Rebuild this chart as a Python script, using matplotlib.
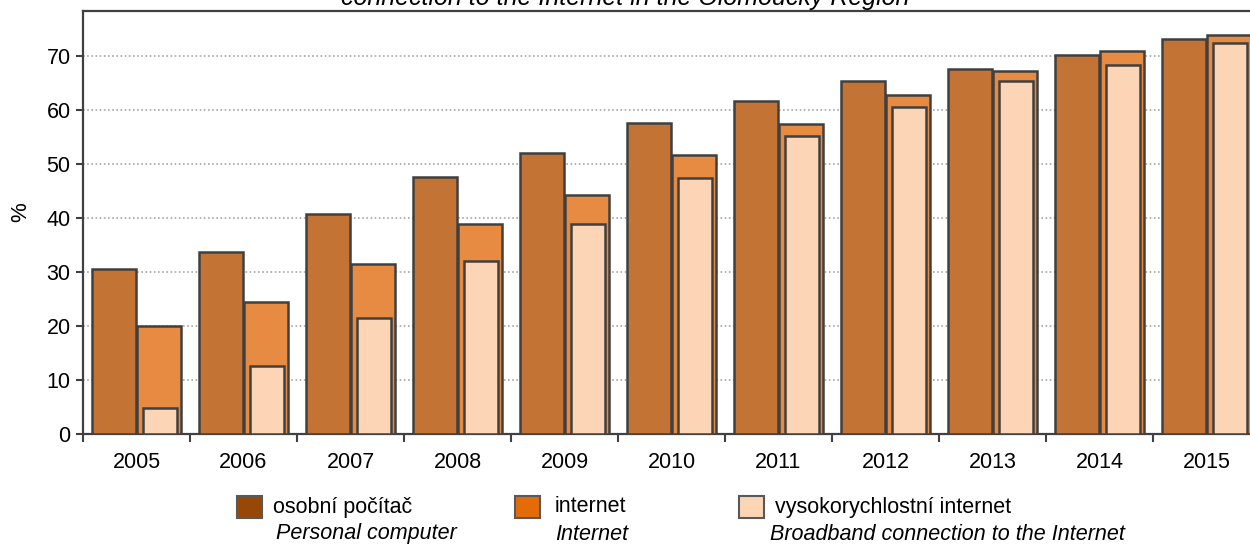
import numpy as np
import matplotlib
matplotlib.use('Agg')
import matplotlib.pyplot as plt
from matplotlib.patches import Rectangle

years = ['2005', '2006', '2007', '2008', '2009', '2010', '2011', '2012', '2013', '2014', '2015']
pc        = [30.6, 33.6, 40.7, 47.6, 52.1, 57.6, 61.7, 65.4, 67.6, 70.2, 73.1]
internet  = [19.9, 24.4, 31.4, 38.8, 44.3, 51.7, 57.3, 62.7, 67.2, 70.9, 73.9]
broadband = [4.8, 12.6, 21.5, 32.1, 38.8, 47.3, 55.1, 60.5, 65.4, 68.3, 72.3]

labels_cz = ['osobní počítač', 'internet', 'vysokorychlostní internet']
labels_en = ['Personal computer', 'Internet', 'Broadband connection to the Internet']
title_txt = 'connection to the Internet in the Olomoucký Region'

bar_cols    = ['#C37434', '#E78B42', '#FCD5B6']
legend_cols = ['#974806', '#E36C09', '#FCD5B5']
edge = '#404040'
fs = 15.5

plt.rcParams['font.family'] = ['Liberation Sans', 'DejaVu Sans']
W, H = 1250, 545
fx = lambda p: p / W
fy = lambda p: 1 - p / H

fig = plt.figure(figsize=(W / 100, H / 100), dpi=100)
ax = fig.add_axes([fx(83), fy(434), 1177 / W, 423 / H])

idx = np.arange(len(years))
ax.bar(idx + 0.29, pc, width=0.41, color=bar_cols[0], edgecolor=edge, lw=1.8, zorder=3)
ax.bar(idx + 0.71, internet, width=0.41, color=bar_cols[1], edgecolor=edge, lw=1.8, zorder=3)
ax.bar(idx + 0.72, broadband, width=0.32, color=bar_cols[2], edgecolor=edge, lw=1.8, zorder=4)

ax.set_xlim(0, len(years))
ax.set_ylim(0, 78.3)
ax.set_yticks(np.arange(0, 80, 10))
ax.set_xticks(np.arange(len(years) + 1))
ax.set_xticklabels([])
ax.set_xticks(idx + 0.5, minor=True)
ax.set_xticklabels(years, minor=True)
ax.tick_params(axis='x', which='minor', length=0, pad=13, labelsize=fs)
ax.tick_params(axis='x', which='major', length=6, width=1.5, color=edge)
ax.tick_params(axis='y', length=5, width=1.5, color=edge, labelsize=fs, pad=4)
for s in ax.spines.values():
    s.set_color(edge)
    s.set_linewidth(1.6)

for v in np.arange(10, 80, 10):
    ax.axhline(v, color='#A6A6A6', lw=1.2, ls=(0, (1, 1.5)), zorder=1)

fig.text(fx(21), fy(212), '%', rotation=90, ha='center', va='center', fontsize=16)
fig.text(0.5, fy(5), title_txt, ha='center', va='baseline', fontsize=18, style='italic')

# legend
sw_x = [237, 515, 739]
tx_cz = [273, 555, 775]
tx_en = [276, 555, 770]
for i in range(3):
    fig.add_artist(Rectangle((fx(sw_x[i]), fy(518)), 25 / W, 22 / H, transform=fig.transFigure,
                             facecolor=legend_cols[i], edgecolor='#595959', lw=1.5))
    fig.text(fx(tx_cz[i]), fy(507), labels_cz[i], ha='left', va='center', fontsize=fs)
    fig.text(fx(tx_en[i]), fy(534), labels_en[i], ha='left', va='center', fontsize=fs, style='italic')

fig.savefig('out.png', dpi=100)
